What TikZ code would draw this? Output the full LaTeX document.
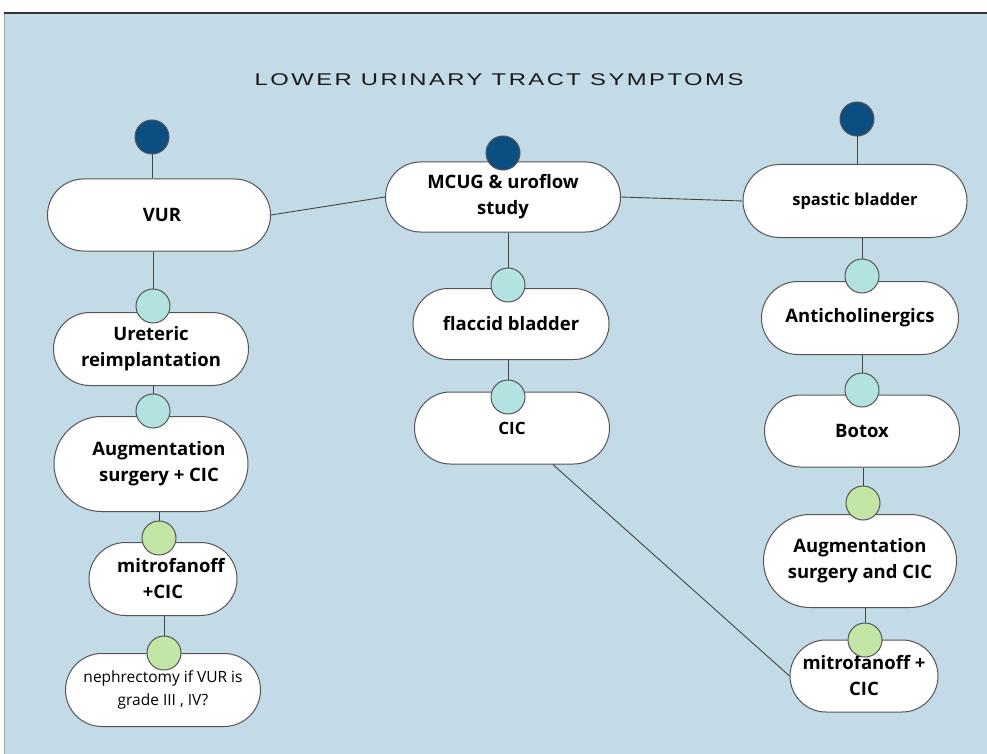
\documentclass[tikz,border=0pt]{standalone}
\usepackage{fontspec}
\setmainfont{Open Sans}
\newfontfamily\titlefont[LetterSpace=10.5]{Liberation Sans}
\usetikzlibrary{shapes.misc}
\definecolor{bgblue}{HTML}{C2DBE6}
\definecolor{darkdot}{HTML}{0B4F82}
\definecolor{tealdot}{HTML}{B2E3E1}
\definecolor{greendot}{HTML}{C3E5A6}
\definecolor{edgegray}{HTML}{555555}
\tikzset{
  pill/.style={rounded rectangle, draw=edgegray, line width=1pt, fill=white, align=center, inner sep=0pt, font=\bfseries\fontsize{18.5}{26}\selectfont},
  dot/.style={circle, draw=edgegray, line width=1pt, minimum size=34pt, inner sep=0pt},
  darkd/.style={dot, fill=darkdot},
  teald/.style={dot, fill=tealdot},
  greend/.style={dot, fill=greendot},
  conn/.style={draw=edgegray!80!black, line width=0.9pt}
}
\begin{document}
\begin{tikzpicture}[x=1pt,y=-1pt]
\useasboundingbox (0,0) rectangle (987,754);
\fill[white] (0,0) rectangle (987,754);
\fill[bgblue] (4,13) rectangle (987,754);
\draw[gray!70, line width=1pt] (4,13) -- (4,754);
\draw[black!80, line width=2pt] (4,13) -- (987,13);
\node[font=\titlefont\fontsize{17}{20}\selectfont, text=black!90] (title) at (499,80) {\scalebox{1.4}[1]{LOWER URINARY TRACT SYMPTOMS}};

% boxes
\node[pill, minimum width=223pt, minimum height=72pt] (vur) at (159,215) {\hspace*{6pt}VUR};
\node[pill, minimum width=235pt, minimum height=70pt] (mcug) at (503,197) {MCUG \& uroflow\\study};
\node[pill, minimum width=224pt, minimum height=73pt, font=\bfseries\fontsize{16.5}{20}\selectfont] (spastic) at (855,201) {spastic bladder};
\node[pill, minimum width=195pt, minimum height=73pt] (uret) at (151,349) {Ureteric\\reimplantation};
\node[pill, minimum width=194pt, minimum height=95pt] (aug1) at (151,464) {\hspace*{16pt}Augmentation\\\hspace*{16pt}surgery + CIC};
\node[pill, minimum width=148pt, minimum height=73pt] (mit1) at (163,579) {\hspace*{16pt}mitrofanoff\\+CIC};
\node[pill, minimum width=195pt, minimum height=73pt, font=\fontsize{15.5}{23}\selectfont] (neph) at (163,690) {nephrectomy if VUR is\\grade III , IV?};
\node[pill, minimum width=196pt, minimum height=71pt] (flac) at (511,324) {flaccid bladder};
\node[pill, minimum width=195pt, minimum height=72pt, font=\bfseries\fontsize{17}{20}\selectfont] (cic) at (512,428) {CIC};
\node[pill, minimum width=197pt, minimum height=73pt] (anti) at (860,318) {Anticholinergics};
\node[pill, minimum width=195pt, minimum height=72pt] (botox) at (862,431) {Botox};
\node[pill, minimum width=193pt, minimum height=93pt] (aug2) at (860,561) {Augmentation\\surgery and CIC};
\node[pill, minimum width=148pt, minimum height=72pt] (mit2) at (864,676) {mitrofanoff +\\CIC};

% dots
\node[darkd] (d1) at (152,137) {};
\node[darkd] (d2) at (503,153) {};
\node[darkd] (d3) at (857,119) {};
\node[teald] (t1) at (153,306) {};
\node[teald] (t2) at (153,411) {};
\node[greend] (g1) at (159,538) {};
\node[greend] (g2) at (164,653) {};
\node[teald] (t3) at (508,285) {};
\node[teald] (t4) at (508,397) {};
\node[teald] (t5) at (862,276) {};
\node[teald] (t6) at (862,390) {};
\node[greend] (g3) at (863,503) {};
\node[greend] (g4) at (865,640) {};

% connectors
\draw[conn] (d1) -- (d1 |- vur.north);
\draw[conn] (d3) -- (d3 |- spastic.north);
\draw[conn] (vur.east) -- (mcug.west);
\draw[conn] (mcug.east) -- (spastic.west);
\draw[conn] (t1 |- vur.south) -- (t1);
\draw[conn] (t2 |- uret.south) -- (t2);
\draw[conn] (g1 |- aug1.south) -- (g1);
\draw[conn] (g2 |- mit1.south) -- (g2);
\draw[conn] (t3 |- mcug.south) -- (t3);
\draw[conn] (t4 |- flac.south) -- (t4);
\draw[conn] (t5 |- spastic.south) -- (t5);
\draw[conn] (t6 |- anti.south) -- (t6);
\draw[conn] (g3 |- botox.south) -- (g3);
\draw[conn] (g4 |- aug2.south) -- (g4);
\draw[conn] (cic) -- (mit2.west);
\end{tikzpicture}
\end{document}
